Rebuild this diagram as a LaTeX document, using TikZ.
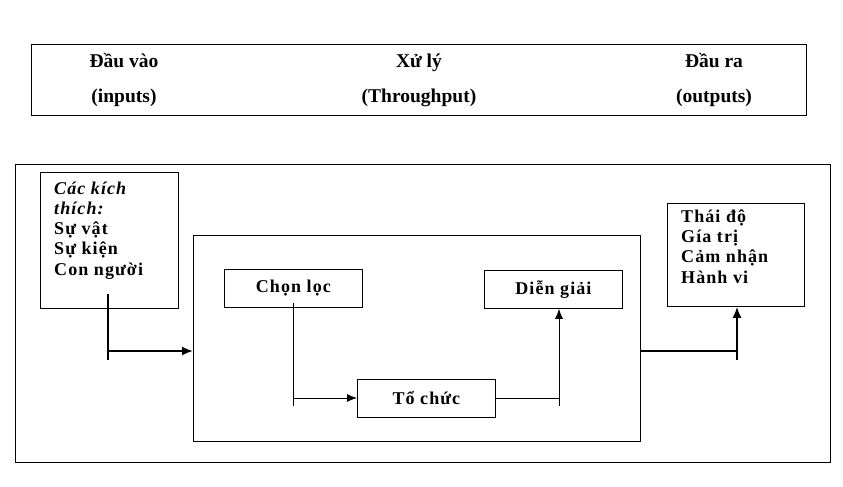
\documentclass[tikz,border=0pt]{standalone}
\usepackage{fontspec}
\setmainfont{Liberation Serif}
\usetikzlibrary{arrows.meta}
\begin{document}
\begin{tikzpicture}[x=1pt,y=-1pt,
  box/.style={draw, line width=0.8pt, inner sep=0pt, anchor=north west},
  toplbl/.style={font=\bfseries\fontsize{19.5}{22}\selectfont, inner sep=0pt, anchor=base},
  lbl/.style={font=\bfseries\fontsize{18}{20.25}\selectfont\addfontfeature{LetterSpace=6}, inner sep=0pt},
  thin/.style={line width=0.8pt},
  thick/.style={line width=1.8pt},
  arr/.style={-{Latex[length=11pt,width=9pt]}},
  arrs/.style={-{Latex[length=10pt,width=8pt]}}]
\useasboundingbox (0,0) rectangle (843,487);
% top box
\node[box, minimum width=775pt, minimum height=71pt] (top) at (31,44) {};
\node[toplbl] (t1) at (124,67) {Đầu vào};
\node[toplbl] (t2) at (124,102) {(inputs)};
\node[toplbl] (t3) at (419,67) {Xử lý};
\node[toplbl] (t4) at (419,102) {(Throughput)};
\node[toplbl] (t5) at (714,67) {Đầu ra};
\node[toplbl] (t6) at (714,102) {(outputs)};
% outer box
\node[box, minimum width=815pt, minimum height=298pt] (outer) at (15,164) {};
% input box
\node[box, minimum width=138pt, minimum height=136pt] (in) at (40,172) {};
\node[lbl, anchor=base west, align=left] (intext) at (54,275)
  {\textit{Các kích}\\\textit{thích:}\\Sự vật\\Sự kiện\\Con người};
% process box
\node[box, minimum width=447pt, minimum height=206pt] (proc) at (193,235) {};
\node[box, minimum width=138pt, minimum height=38pt] (chon) at (224,269) {};
\node[lbl] at (chon.center) {Chọn lọc};
\node[box, minimum width=138pt, minimum height=38pt] (dien) at (484,270) {};
\node[lbl] at (dien.center) {Diễn giải};
\node[box, minimum width=138pt, minimum height=38pt] (to) at (357,379) {};
\node[lbl] at (to.center) {Tổ chức};
% output box
\node[box, minimum width=137pt, minimum height=103pt] (out) at (667,203) {};
\node[lbl, anchor=base west, align=left] (outtext) at (681,283)
  {Thái độ\\Gía trị\\Cảm nhận\\Hành vi};
% connectors
\coordinate (a1) at (108,294);
\coordinate (a2) at (108,360);
\coordinate (a3) at (108,351);
\draw[thick] (a1) -- (a2);
\draw[thick, arr] (a3) -- (proc.west |- a3);
\coordinate (b1) at (293,303);
\coordinate (b2) at (293,406);
\coordinate (b3) at (293,398);
\draw[thin] (b1) -- (b2);
\draw[thin, arrs] (b3) -- (to.west |- b3);
\coordinate (c1) at (559,406);
\coordinate (c2) at (559,398);
\draw[thin] (to.east |- c2) -- (c2);
\draw[thin, arrs] (c1) -- (c1 |- dien.south);
\coordinate (d1) at (737,351);
\coordinate (d2) at (737,360);
\draw[thick] (proc.east |- d1) -- (d1);
\draw[thick, arr] (d2) -- (d2 |- out.south);
\end{tikzpicture}
\end{document}
